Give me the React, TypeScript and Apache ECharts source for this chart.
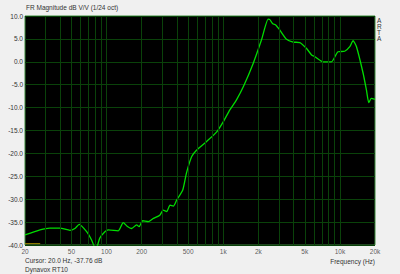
import React, { useEffect, useRef } from "react";
import * as echarts from "echarts";

const freqs = [20, 26.9, 32.7, 39.9, 48.6, 53.5, 58.3, 67.5, 74.4, 81, 87.5, 96.8, 103.6, 126, 139, 150, 164, 181, 190, 204, 228, 252, 286, 306, 328, 350, 374, 399, 450, 484, 537, 590, 720, 880, 1000, 1140, 1300, 1490, 1810, 2130, 2430, 2510, 2660, 2830, 3060, 3490, 3980, 4540, 5180, 5720, 6110, 7160, 8460, 9640, 11000, 12160, 12980, 13880, 15820, 16900, 17700, 18600, 20000];
const dbs = [-37.8, -36.7, -36.3, -36.3, -36.8, -36.4, -35.5, -37.1, -38.9, -41, -38.5, -37.1, -36.7, -36.9, -35.1, -35.9, -36.4, -35.6, -36.0, -34.7, -34.9, -34.2, -33.5, -32.4, -32.7, -31.3, -31.5, -30.2, -28.0, -24.3, -20.7, -19.3, -17.4, -15.3, -13.1, -10.5, -8.3, -5.4, -0.3, 4.8, 9.3, 9.2, 8.3, 8.0, 6.9, 4.9, 4.3, 4.2, 2.9, 1.5, 1.1, 0.0, 0.0, 2.2, 2.3, 3.3, 4.6, 3.3, -2.5, -6.2, -8.9, -8.0, -8.2];
const gridFreqs = [30, 40, 50, 60, 70, 80, 90, 100, 200, 300, 400, 500, 600, 700, 800, 900, 1000, 2000, 3000, 4000, 5000, 6000, 7000, 8000, 9000, 10000];
const labelFreqs = [20, 50, 100, 200, 500, 1000, 2000, 5000, 10000, 20000];
const cursorFreqs = [20, 27];
const cursorDb = -39.7;

const FONT = "Liberation Sans";
const GRID = "#0a420a";
const fmtF = (f: number) => (f >= 1000 ? f / 1000 + "k" : String(f));

export default function App() {
  const ref = useRef<HTMLDivElement>(null);
  useEffect(() => {
    const chart = echarts.init(ref.current!, null, { renderer: "svg" });
    chart.setOption({
      animation: false,
      backgroundColor: "#f0f0f0",
      grid: { left: 25, right: 25, top: 16, bottom: 29, show: true, backgroundColor: "#000", borderColor: "#3c8a3c", borderWidth: 1 },
      xAxis: {
        type: "log",
        logBase: 10,
        min: 20,
        max: 20000,
        axisLine: { show: false },
        axisTick: { show: false },
        axisLabel: { show: false },
        splitLine: { show: false },
      },
      yAxis: {
        type: "value",
        min: -40,
        max: 10,
        interval: 5,
        axisLine: { show: false },
        axisTick: { show: false },
        axisLabel: { formatter: (v: number) => v.toFixed(1), color: "#333", fontSize: 6.5, fontFamily: FONT, margin: 2 },
        splitLine: { show: true, lineStyle: { color: GRID, width: 1 } },
      },
      series: [
        {
          type: "line",
          z: 1,
          data: cursorFreqs.map((f) => [f, cursorDb]),
          showSymbol: false,
          symbol: "none",
          lineStyle: { color: "#a08a00", width: 1 },
          markLine: {
            silent: true,
            symbol: "none",
            label: { show: false },
            lineStyle: { type: "solid", color: GRID, width: 1 },
            data: gridFreqs.map((f) => ({ xAxis: f })),
            animation: false,
          },
        },
        {
          type: "scatter",
          z: 1,
          clip: false,
          symbolSize: 0,
          silent: true,
          data: labelFreqs.map((f) => [f, -40]),
          label: {
            show: true,
            position: "bottom",
            distance: 3,
            formatter: (p: any) => fmtF(p.value[0]),
            color: "#333",
            fontSize: 6.5,
            fontFamily: FONT,
          },
        },
        {
          type: "line",
          z: 3,
          data: freqs.map((f, i) => [f, dbs[i]]),
          showSymbol: false,
          symbol: "none",
          smooth: 0.2,
          lineStyle: { color: "#00dd00", width: 1.3 },
        },
      ],
      graphic: [
        { type: "text", left: 26, top: 4, style: { text: "FR Magnitude dB V/V (1/24 oct)", fill: "#333", fontSize: 6.5, fontFamily: FONT } },
        { type: "text", left: 377, top: 17, style: { text: "A\nR\nT\nA", fill: "#333", fontSize: 6.5, lineHeight: 6, fontFamily: FONT } },
        { type: "text", left: 25, top: 257, style: { text: "Cursor: 20.0 Hz, -37.76 dB", fill: "#333", fontSize: 6.5, fontFamily: FONT } },
        { type: "text", left: 25, top: 266, style: { text: "Dynavox RT10", fill: "#333", fontSize: 6.5, fontFamily: FONT } },
        { type: "text", right: 25, top: 258, style: { text: "Frequency (Hz)", fill: "#333", fontSize: 6.5, fontFamily: FONT } },
      ],
    });
    return () => chart.dispose();
  }, []);
  return <div ref={ref} style={{ width: 400, height: 274, position: "fixed", left: 0, top: 0 }} />;
}
